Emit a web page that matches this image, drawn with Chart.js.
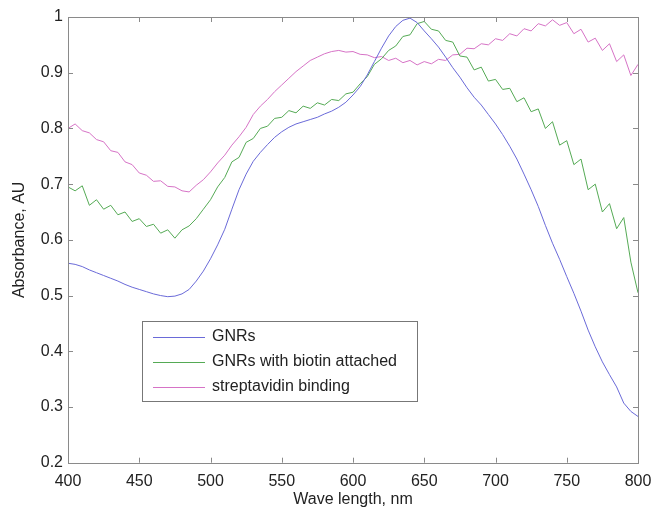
<!DOCTYPE html>
<html>
<head>
<meta charset="utf-8">
<script src="https://cdn.jsdelivr.net/npm/chart.js@4.4.1/dist/chart.umd.min.js"></script>
<style>
  html, body { margin: 0; padding: 0; background: #fff; }
  #wrap { width: 654px; height: 508px; }
</style>
</head>
<body>
<div id="wrap"><canvas id="chart" width="654" height="508"></canvas></div>
<script>
// wavelength, nm (5 nm steps)
const waveLength = [400,405,410,415,420,425,430,435,440,445,450,455,460,465,470,475,480,485,490,495,
  500,505,510,515,520,525,530,535,540,545,550,555,560,565,570,575,580,585,590,595,
  600,605,610,615,620,625,630,635,640,645,650,655,660,665,670,675,680,685,690,695,
  700,705,710,715,720,725,730,735,740,745,750,755,760,765,770,775,780,785,790,795,800];

const gnrs = [0.558,0.556,0.552,0.546,0.541,0.536,0.531,0.526,0.520,0.515,0.511,0.507,0.503,0.500,0.498,0.499,0.503,0.511,0.526,0.544,
  0.566,0.591,0.619,0.655,0.690,0.718,0.741,0.757,0.771,0.784,0.794,0.802,0.808,0.812,0.816,0.820,0.826,0.831,0.838,0.847,
  0.860,0.875,0.896,0.920,0.944,0.966,0.983,0.994,0.998,0.990,0.975,0.961,0.946,0.928,0.909,0.892,0.873,0.856,0.842,0.825,
  0.808,0.789,0.768,0.745,0.718,0.690,0.660,0.626,0.594,0.565,0.534,0.504,0.472,0.438,0.408,0.381,0.358,0.336,0.307,0.292,0.283];

const gnrsBiotin = [0.695,0.688,0.697,0.662,0.672,0.655,0.662,0.645,0.650,0.633,0.638,0.624,0.628,0.612,0.618,0.603,0.618,0.625,0.638,0.655,
  0.672,0.695,0.712,0.740,0.748,0.775,0.782,0.800,0.804,0.818,0.820,0.832,0.828,0.840,0.836,0.846,0.842,0.852,0.850,0.862,
  0.865,0.880,0.893,0.915,0.925,0.940,0.948,0.965,0.968,0.988,0.992,0.978,0.975,0.958,0.955,0.930,0.928,0.905,0.910,0.885,
  0.888,0.870,0.872,0.848,0.855,0.830,0.835,0.800,0.812,0.770,0.778,0.735,0.745,0.690,0.700,0.650,0.665,0.620,0.640,0.560,0.505];

const streptavidin = [0.800,0.808,0.796,0.792,0.780,0.776,0.760,0.757,0.740,0.735,0.720,0.716,0.705,0.706,0.696,0.695,0.688,0.686,0.698,0.708,
  0.722,0.738,0.752,0.770,0.785,0.802,0.825,0.840,0.852,0.866,0.878,0.890,0.902,0.912,0.922,0.928,0.934,0.938,0.940,0.937,
  0.938,0.933,0.932,0.927,0.929,0.922,0.926,0.918,0.922,0.914,0.920,0.916,0.924,0.922,0.932,0.933,0.944,0.943,0.952,0.950,
  0.961,0.958,0.970,0.966,0.979,0.975,0.988,0.984,0.995,0.985,0.990,0.970,0.978,0.955,0.962,0.940,0.952,0.920,0.932,0.895,0.915];

const seriesNames = ['GNRs', 'GNRs with biotin attached', 'streptavidin binding'];
const seriesColors = ['#6a6ad8', '#55aa55', '#d673c6'];
const seriesValues = [gnrs, gnrsBiotin, streptavidin];

const FONT = "'Liberation Sans', Arial, sans-serif";
const AXIS = '#8a8a8a';
const TEXT = '#222';

// matlab style frame with inward ticks on all four sides
const framePlugin = {
  id: 'frame',
  afterDatasetsDraw(chart) {
    const { ctx, chartArea: a, scales } = chart;
    ctx.save();
    ctx.strokeStyle = AXIS;
    ctx.lineWidth = 1;
    ctx.strokeRect(Math.round(a.left) + 0.5, Math.round(a.top) + 0.5,
      Math.round(a.right - a.left), Math.round(a.bottom - a.top));
    const len = 5;
    ctx.beginPath();
    scales.x.ticks.forEach(t => {
      const px = Math.round(scales.x.getPixelForValue(t.value)) + 0.5;
      ctx.moveTo(px, a.bottom); ctx.lineTo(px, a.bottom - len);
      ctx.moveTo(px, a.top); ctx.lineTo(px, a.top + len);
    });
    scales.y.ticks.forEach(t => {
      const py = Math.round(scales.y.getPixelForValue(t.value)) + 0.5;
      ctx.moveTo(a.left, py); ctx.lineTo(a.left + len, py);
      ctx.moveTo(a.right, py); ctx.lineTo(a.right - len, py);
    });
    ctx.stroke();

    // legend box inside the plot
    const bx = 142.5, by = 321.5, bw = 275, bh = 80;
    ctx.fillStyle = '#fff';
    ctx.fillRect(bx, by, bw, bh);
    ctx.strokeStyle = '#777';
    ctx.strokeRect(bx, by, bw, bh);
    ctx.font = '16px ' + FONT;
    ctx.textBaseline = 'middle';
    chart.data.datasets.forEach((ds, i) => {
      const y = 337 + i * 25;
      ctx.strokeStyle = ds.borderColor;
      ctx.beginPath();
      ctx.moveTo(153, y + 0.5); ctx.lineTo(205, y + 0.5);
      ctx.stroke();
      ctx.fillStyle = TEXT;
      ctx.fillText(ds.label, 212, y);
    });
    ctx.restore();
  }
};

new Chart(document.getElementById('chart'), {
  type: 'line',
  data: {
    datasets: seriesNames.map((name, i) => ({
      label: name,
      data: waveLength.map((w, j) => ({ x: w, y: seriesValues[i][j] })),
      borderColor: seriesColors[i],
      borderWidth: 1,
      pointRadius: 0,
      tension: 0,
      fill: false
    }))
  },
  options: {
    responsive: false,
    animation: false,
    layout: { padding: { top: 17, right: 16, bottom: 0, left: 0 } },
    plugins: { legend: { display: false }, tooltip: { enabled: false } },
    scales: {
      x: {
        type: 'linear', min: 400, max: 800,
        grid: { display: false, drawTicks: false },
        border: { display: false },
        ticks: { stepSize: 50, color: TEXT, font: { family: FONT, size: 16 }, padding: 9, maxRotation: 0 },
        title: { display: true, text: 'Wave length, nm', color: TEXT, font: { family: FONT, size: 16, lineHeight: 1 }, padding: 0 },
        afterFit(scale) { scale.height = 45.3; scale.paddingLeft = 0; scale.paddingRight = 0; }
      },
      y: {
        min: 0.2, max: 1,
        grid: { display: false, drawTicks: false },
        border: { display: false },
        ticks: { stepSize: 0.1, color: TEXT, font: { family: FONT, size: 16 }, padding: 5,
          callback: v => String(+v.toFixed(1)) },
        title: { display: true, text: 'Absorbance, AU', color: TEXT, font: { family: FONT, size: 16, lineHeight: 1.2 }, padding: { top: 10 } },
        afterFit(scale) { scale.width = 68; scale.paddingTop = 0; scale.paddingBottom = 0; }
      }
    }
  },
  plugins: [framePlugin]
});
</script>
</body>
</html>
